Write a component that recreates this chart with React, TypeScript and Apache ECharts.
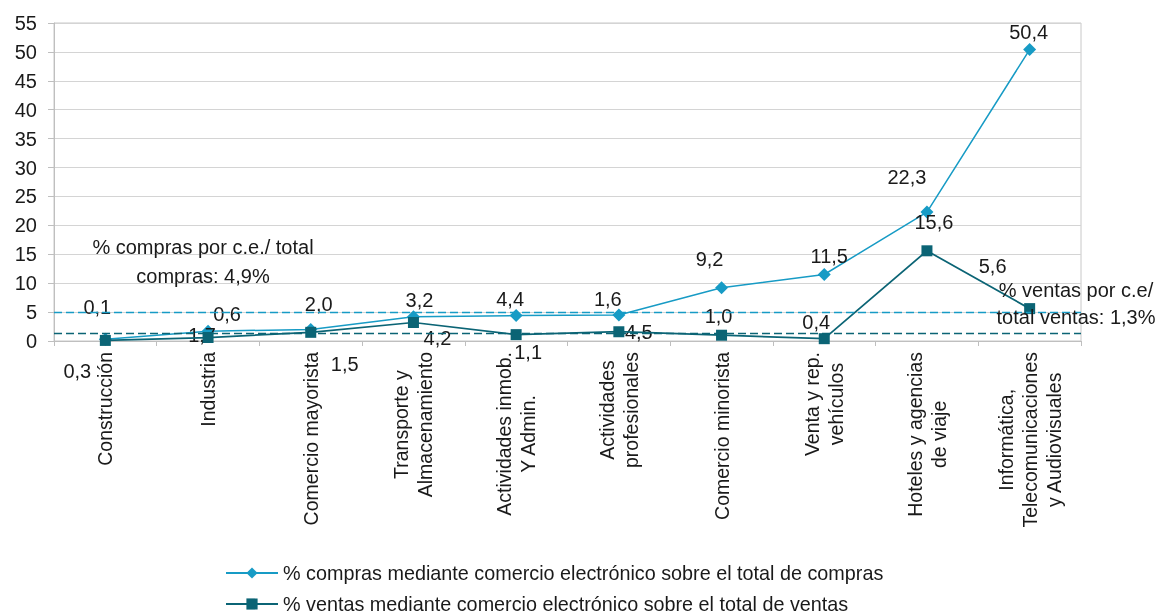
import React, { useEffect, useRef } from "react";
import * as echarts from "echarts";

const categories = [
  "Construcción",
  "Industria",
  "Comercio mayorista",
  "Transporte y\nAlmacenamiento",
  "Actividades inmob.\nY Admin.",
  "Actividades\nprofesionales",
  "Comercio minorista",
  "Venta y rep.\nvehículos",
  "Hoteles y agencias\nde viaje",
  "Informática,\nTelecomunicaciones\ny Audiovisuales",
];

const comprasName = "% compras mediante comercio electrónico sobre el total de compras";
const ventasName = "% ventas mediante comercio electrónico sobre el total de ventas";

const compras = [0.3, 1.7, 2.0, 4.2, 4.4, 4.5, 9.2, 11.5, 22.3, 50.4];
const ventas = [0.1, 0.6, 1.5, 3.2, 1.1, 1.6, 1.0, 0.4, 15.6, 5.6];

const comprasTotal = 4.9;
const ventasTotal = 1.3;

const yMin = 0;
const yMax = 55;
const yInterval = 5;

// label placement (pixel offsets from each point), layout only
const comprasLabelOffsets = [
  [-28, 32], [-6, 4], [8, -25], [24, 21], [-6, -17],
  [20, 17], [-12, -29], [5, -19], [-20, -35], [-1, -18],
];
const ventasLabelOffsets = [
  [-8, -33], [19, -24], [34, 32], [6, -22], [12, 17],
  [-11, -33], [-3, -19], [-8, -17], [7, -29], [-37, -43],
];

const FONT = "'Liberation Sans', Arial, sans-serif";
const TEXT = "#1a1a1a";
const C_COMPRAS = "#179BC5";
const C_VENTAS = "#0B6475";
const FS = 20;

const fmt = (v: number) => v.toFixed(1).replace(".", ",");

export default function App() {
  const ref = useRef<HTMLDivElement>(null);

  useEffect(() => {
    if (!ref.current) return;
    const chart = echarts.init(ref.current, undefined, { renderer: "svg" });

    const mkData = (vals: number[], offs: number[][]) =>
      vals.map((v, i) => ({
        value: v,
        label: { offset: offs[i] },
      }));

    const labelCommon = {
      show: true,
      position: "inside" as const,
      color: TEXT,
      fontSize: FS,
      fontFamily: FONT,
      formatter: (p: any) => fmt(p.value as number),
    };

    chart.setOption({
      animation: false,
      textStyle: { fontFamily: FONT },
      grid: {
        left: 54,
        right: 76,
        top: 23,
        bottom: 273,
        show: true,
        borderColor: "#c8c8c8",
        borderWidth: 1,
      },
      legend: {
        orient: "vertical",
        left: 220,
        top: 558,
        height: 80,
        itemWidth: 52,
        itemHeight: 14,
        itemGap: 11,
        padding: 5,
        textStyle: { fontSize: 19.8, color: TEXT, fontFamily: FONT, lineHeight: 20 },
        data: [comprasName, ventasName],
      },
      xAxis: {
        type: "category",
        data: categories,
        boundaryGap: true,
        axisLine: { show: true, lineStyle: { color: "#bfbfbf", width: 1 } },
        axisTick: { show: true, length: 5, alignWithLabel: false, lineStyle: { color: "#bfbfbf" } },
        axisLabel: {
          interval: 0,
          rotate: 90,
          margin: 11,
          color: TEXT,
          fontSize: 19.5,
          fontFamily: FONT,
          formatter: (val: string) =>
            val.split("\n").map((l) => `{c|${l}}`).join("\n"),
          rich: {
            c: {
              align: "center",
              fontSize: 19.5,
              fontFamily: FONT,
              color: TEXT,
              lineHeight: 24,
            },
          },
        },
        splitLine: { show: false },
      },
      yAxis: {
        type: "value",
        min: yMin,
        max: yMax,
        interval: yInterval,
        axisLine: { show: true, lineStyle: { color: "#bfbfbf", width: 1 } },
        axisTick: { show: true, length: 6, lineStyle: { color: "#bfbfbf" } },
        axisLabel: { color: TEXT, fontSize: FS, fontFamily: FONT, margin: 17 },
        splitLine: { show: true, lineStyle: { color: "#d4d4d4", width: 1 } },
      },
      series: [
        {
          name: comprasName,
          type: "line",
          data: mkData(compras, comprasLabelOffsets),
          symbol: "diamond",
          symbolSize: 13,
          itemStyle: { color: C_COMPRAS },
          lineStyle: { color: C_COMPRAS, width: 1.5 },
          label: labelCommon,
          z: 3,
          markLine: {
            silent: true,
            symbol: "none",
            label: { show: false },
            lineStyle: { color: C_COMPRAS, type: [8, 4], width: 1.3 },
            data: [{ yAxis: comprasTotal }],
          },
        },
        {
          name: ventasName,
          type: "line",
          data: mkData(ventas, ventasLabelOffsets),
          symbol: "rect",
          symbolSize: 11,
          itemStyle: { color: C_VENTAS },
          lineStyle: { color: C_VENTAS, width: 1.75 },
          label: labelCommon,
          z: 4,
          markLine: {
            silent: true,
            symbol: "none",
            label: { show: false },
            lineStyle: { color: C_VENTAS, type: [8, 4], width: 1.3 },
            data: [{ yAxis: ventasTotal }],
          },
        },
      ],
      graphic: [
        {
          type: "text",
          x: 203,
          y: 261,
          z: 10,
          style: {
            text: `% compras por c.e./ total\ncompras: ${fmt(comprasTotal)}%`,
            fontSize: FS,
            fontFamily: FONT,
            fill: TEXT,
            align: "center",
            verticalAlign: "middle",
            lineHeight: 29,
          },
        },
        {
          type: "text",
          x: 1076,
          y: 303,
          z: 10,
          style: {
            text: `% ventas por c.e/\ntotal ventas: ${fmt(ventasTotal)}%`,
            fontSize: FS,
            fontFamily: FONT,
            fill: TEXT,
            align: "center",
            verticalAlign: "middle",
            lineHeight: 27,
          },
        },
      ],
    });

    return () => chart.dispose();
  }, []);

  return (
    <div
      ref={ref}
      style={{ position: "fixed", left: 0, top: 0, width: 1157, height: 614 }}
    />
  );
}
